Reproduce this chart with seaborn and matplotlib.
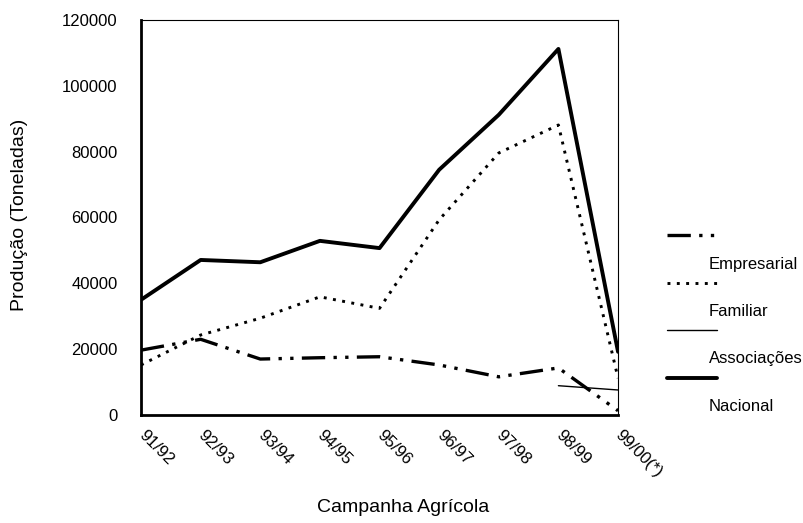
import numpy as np
import pandas as pd
import seaborn as sns
import matplotlib.pyplot as plt
from matplotlib.lines import Line2D

campanhas = ['91/92', '92/93', '93/94', '94/95', '95/96', '96/97', '97/98', '98/99', '99/00(*)']
empresarial = [19700, 23000, 17000, 17400, 17700, 15200, 11600, 14300, 1300]
familiar = [15200, 24300, 29400, 35900, 32400, 59300, 79600, 88100, 11200]
associacoes = [np.nan, np.nan, np.nan, np.nan, np.nan, np.nan, np.nan, 8900, 7600]
nacional = [35000, 47100, 46400, 52900, 50700, 74500, 91200, 111200, 19200]

sns.set_style('white')
plt.rcParams['font.family'] = ['Liberation Sans', 'DejaVu Sans']
plt.rcParams['font.size'] = 12
plt.rcParams['text.color'] = 'black'
plt.rcParams['xtick.color'] = 'black'
plt.rcParams['ytick.color'] = 'black'
plt.rcParams['axes.labelcolor'] = 'black'

fig = plt.figure(figsize=(8.04, 5.23), dpi=100)
ax = fig.add_axes([0.1754, 0.2065, 0.5933, 0.7553])

pos = np.arange(len(campanhas))
series = {
    'Empresarial': (empresarial, dict(lw=2.4, dashes=(7, 2.5, 1, 2.5, 1, 2.5))),
    'Familiar': (familiar, dict(lw=2.1, dashes=(1, 2.2))),
    'Associações': (associacoes, dict(lw=1.0, linestyle='-')),
    'Nacional': (nacional, dict(lw=2.8, linestyle='-')),
}

for nome, (vals, estilo) in series.items():
    df = pd.DataFrame({'pos': pos, 'valor': vals}).dropna()
    sns.lineplot(data=df, x='pos', y='valor', ax=ax, color='black', **estilo)

ax.set_xlim(0, len(campanhas) - 1)
ax.set_ylim(0, 120000)
ax.set_yticks(range(0, 120001, 20000))
ax.set_yticklabels([str(v) for v in range(0, 120001, 20000)])
ax.set_xticks(pos)
ax.set_xticklabels(campanhas, rotation=-45, ha='left', va='center',
                   rotation_mode='anchor')
ax.tick_params(axis='both', direction='inout', length=4, width=1.5, color='black')
ax.tick_params(axis='y', pad=15)
ax.tick_params(axis='x', pad=11)

for s in ['left', 'bottom']:
    ax.spines[s].set_linewidth(2)
    ax.spines[s].set_color('black')
for s in ['top', 'right']:
    ax.spines[s].set_linewidth(0.8)
    ax.spines[s].set_color('black')

ax.set_xlabel('')
ax.set_ylabel('')
fig.text(403 / 804, 1 - 508 / 523, 'Campanha Agrícola', ha='center', va='center',
         fontsize=14)
fig.text(20 / 804, 1 - 215 / 523, 'Produção (Toneladas)', ha='center', va='center',
         rotation=90, fontsize=14)

# legenda: traço em cima, nome por baixo
for i, (nome, (vals, estilo)) in enumerate(series.items()):
    y0 = 1 - (235 + i * 47.5) / 523
    fig.add_artist(Line2D([667 / 804, 717 / 804], [y0, y0], color='black',
                          transform=fig.transFigure, **estilo))
    fig.text(709 / 804, 1 - (264 + i * 47.5) / 523, nome, ha='left', va='center')

fig.savefig('out.png', dpi=100)
